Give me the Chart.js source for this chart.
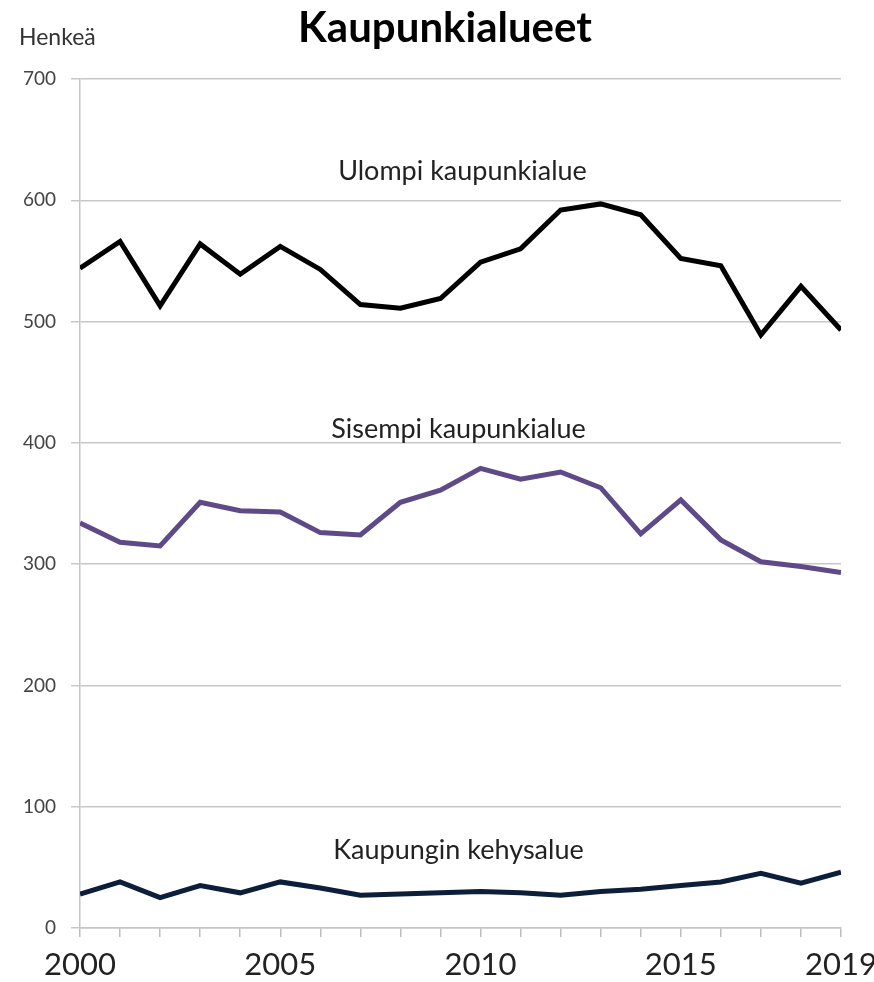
<!DOCTYPE html>
<html>
<head>
<meta charset="utf-8">
<script src="https://cdn.jsdelivr.net/npm/chart.js@4"></script>
<style>
  html, body { margin: 0; padding: 0; background: #fff; }
  #wrap { width: 874px; height: 982px; position: relative; }
</style>
</head>
<body>
<div id="wrap"><canvas id="chart" width="874" height="982"></canvas></div>
<script>
const years = [2000, 2001, 2002, 2003, 2004, 2005, 2006, 2007, 2008, 2009,
  2010, 2011, 2012, 2013, 2014, 2015, 2016, 2017, 2018, 2019];
const ulompi = [544, 566, 513, 564, 539, 562, 543, 514, 511, 519,
  549, 560, 592, 597, 588, 552, 546, 489, 529, 493];
const sisempi = [334, 318, 315, 351, 344, 343, 326, 324, 351, 361,
  379, 370, 376, 363, 325, 353, 320, 302, 298, 293];
const kehys = [28, 38, 25, 35, 29, 38, 33, 27, 28, 29,
  30, 29, 27, 30, 32, 35, 38, 45, 37, 46];
const xLabels = [2000, 2005, 2010, 2015, 2019];
const seriesLabels = [
  { text: "Ulompi kaupunkialue", x: 2009.55, y: 624 },
  { text: "Sisempi kaupunkialue", x: 2009.45, y: 411 },
  { text: "Kaupungin kehysalue", x: 2009.45, y: 64 },
];

const FONT = "Lato, 'Open Sans', sans-serif";

const textPlugin = {
  id: "texts",
  afterDraw(chart) {
    const { ctx, scales } = chart;
    ctx.save();
    ctx.fillStyle = "#000";
    ctx.font = "bold 42px " + FONT;
    ctx.textAlign = "center";
    ctx.textBaseline = "middle";
    ctx.fillText("Kaupunkialueet", 445, 28);
    ctx.fillStyle = "#333";
    ctx.font = "23px " + FONT;
    ctx.textAlign = "left";
    ctx.fillText("Henkeä", 19, 38);
    ctx.font = "27px " + FONT;
    ctx.textAlign = "center";
    ctx.fillStyle = "#222";
    seriesLabels.forEach((l) => {
      ctx.fillText(l.text, scales.x.getPixelForValue(l.x), scales.y.getPixelForValue(l.y));
    });
    ctx.restore();
  },
};

new Chart(document.getElementById("chart"), {
  type: "line",
  data: {
    datasets: [
      { label: "Ulompi kaupunkialue", data: years.map((y, i) => ({ x: y, y: ulompi[i] })), borderColor: "#000000" },
      { label: "Sisempi kaupunkialue", data: years.map((y, i) => ({ x: y, y: sisempi[i] })), borderColor: "#5e4a86" },
      { label: "Kaupungin kehysalue", data: years.map((y, i) => ({ x: y, y: kehys[i] })), borderColor: "#0d1e3a" },
    ],
  },
  options: {
    responsive: false,
    animation: false,
    layout: { padding: { top: 79, right: 33, left: 0, bottom: 0 } },
    elements: {
      line: { borderWidth: 5, tension: 0, borderJoinStyle: "miter", borderCapStyle: "butt" },
      point: { radius: 0 },
    },
    plugins: { legend: { display: false }, tooltip: { enabled: false } },
    scales: {
      x: {
        type: "linear",
        min: 2000,
        max: 2019,
        ticks: {
          stepSize: 1,
          autoSkip: false,
          maxRotation: 0,
          color: "#222",
          font: { family: FONT, size: 31 },
          padding: 9,
          callback: (v) => (xLabels.includes(v) ? String(v) : ""),
        },
        grid: { drawOnChartArea: false, color: "#bdbdbd", lineWidth: 1.5, tickLength: 9 },
        border: { color: "#c6c6c6", width: 1.5 },
        afterFit(scale) {
          scale.height = 54;
          scale.paddingLeft = 0;
          scale.paddingRight = 0;
        },
      },
      y: {
        min: 0,
        max: 700,
        ticks: {
          stepSize: 100,
          color: "#444",
          font: { family: FONT, size: 19 },
          padding: 15,
        },
        grid: { color: "#c8c8c8", lineWidth: 1.5, tickLength: 9 },
        border: { color: "#c6c6c6", width: 1.5 },
        afterFit(scale) { scale.width = 80; },
      },
    },
  },
  plugins: [textPlugin],
});
</script>
</body>
</html>
